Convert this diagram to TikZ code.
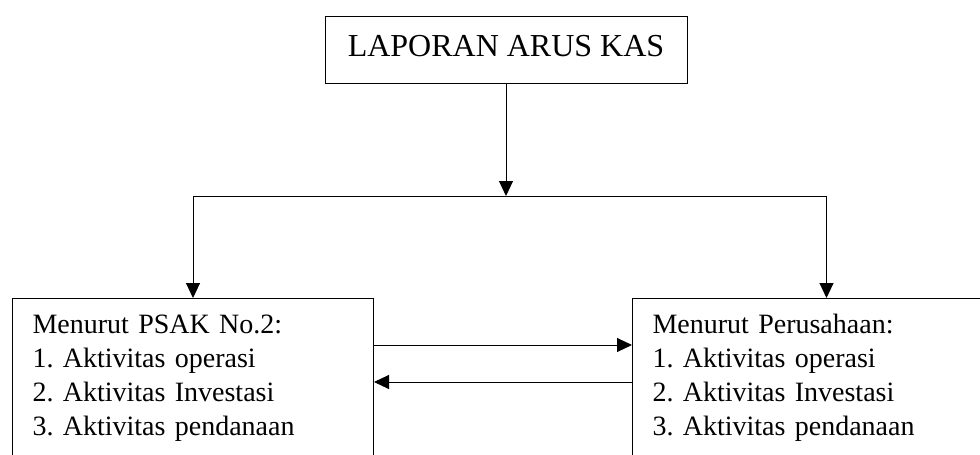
\documentclass[tikz,border=0pt]{standalone}
\usepackage{fontspec}
\setmainfont{Liberation Serif}
\usetikzlibrary{arrows.meta}
\frenchspacing
\begin{document}
\begin{tikzpicture}
  [x=1pt,y=-1pt,line width=1pt,every node/.style={draw,rectangle,inner sep=0pt}]
  \tikzstyle{tip} = [-{Triangle[length=15pt,width=14pt]}]
  \tikzstyle{list} = [anchor=north west,align=left,inner xsep=20pt,text height=35pt,text depth=160pt,font=\fontsize{28}{34}\selectfont]
  \clip (0,0) rectangle (980,455);
  \node (lap) at (506,49.5) [minimum width=362pt,text height=40pt,text depth=27pt,font=\fontsize{32}{38}\selectfont] {LAPORAN ARUS KAS};
  \node (psak) at (12,298) [list,text width=321pt] {Menurut PSAK No.2:\\1. Aktivitas operasi\\2. Aktivitas Investasi\\3. Aktivitas pendanaan};
  \node (per) at (632,298) [list,text width=348pt] {Menurut Perusahaan:\\1. Aktivitas operasi\\2. Aktivitas Investasi\\3. Aktivitas pendanaan};
  \coordinate (hub) at (506,196);
  \draw[tip] (lap) -- (hub);
  \foreach \dest in {psak,per}
    \draw[tip] (hub) -| (\dest.north);
  \draw[tip] ([yshift=-47pt]psak.north east) -- ([yshift=-47pt]per.north west);
  \draw[tip] ([yshift=-84pt]per.north west) -- ([yshift=-84pt]psak.north east);
\end{tikzpicture}
\end{document}
